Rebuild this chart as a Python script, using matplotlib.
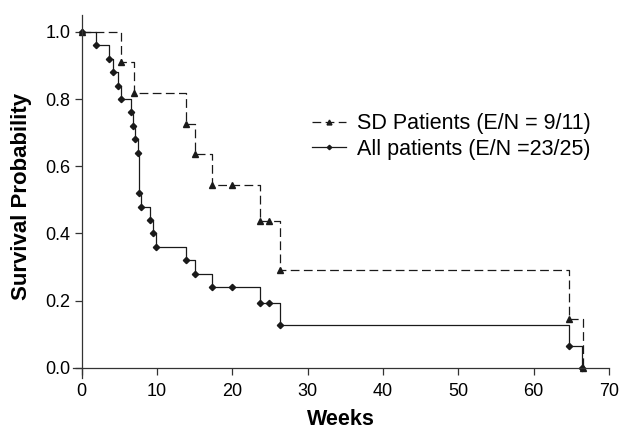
import matplotlib
matplotlib.use('Agg')
import matplotlib.pyplot as plt

plt.rcParams['font.family'] = ['Liberation Sans', 'DejaVu Sans']

# Kaplan-Meier curves (weeks, survival probability)
sd_weeks = [0, 5.2, 6.9, 13.9, 15.0, 17.3, 19.9, 23.6, 24.9, 26.3, 64.7, 66.5]
sd_surv = [1.0, 0.909, 0.818, 0.727, 0.636, 0.545, 0.545, 0.436, 0.436, 0.291, 0.145, 0.0]

all_weeks = [0, 1.9, 3.6, 4.2, 4.8, 5.2, 6.5, 6.8, 7.1, 7.4, 7.55, 7.9, 9.0, 9.5, 9.9,
             13.9, 15.0, 17.3, 19.9, 23.6, 24.9, 26.3, 64.7, 66.4]
all_surv = [1.0, 0.96, 0.92, 0.88, 0.84, 0.80, 0.76, 0.72, 0.68, 0.64, 0.52, 0.48, 0.44, 0.40, 0.36,
            0.32, 0.28, 0.24, 0.24, 0.192, 0.192, 0.128, 0.064, 0.0]

sd_label = 'SD Patients (E/N = 9/11)'
all_label = 'All patients (E/N =23/25)'

x_ticks = [0, 10, 20, 30, 40, 50, 60, 70]
y_ticks = [0.0, 0.2, 0.4, 0.6, 0.8, 1.0]

fig = plt.figure(figsize=(6.2, 4.28), dpi=100)
ax = fig.add_axes([0.1173, 0.1168, 0.865, 0.8482])

line_col = '#1a1a1a'
ax.step(all_weeks, all_surv, where='post', color=line_col, lw=0.9,
        marker='D', markersize=3.2, label=all_label)
ax.step(sd_weeks, sd_surv, where='post', color=line_col, lw=0.9, linestyle=(0, (7, 3.5)),
        marker='^', markersize=5, label=sd_label)

ax.set_xlim(-1.2, 70)
ax.set_ylim(-0.03, 1.05)
ax.set_xticks(x_ticks)
ax.set_yticks(y_ticks)
ax.set_yticklabels(['%.1f' % v for v in y_ticks])

for side in ['top', 'right']:
    ax.spines[side].set_visible(False)
ax.spines['left'].set_position(('data', 0))
ax.spines['bottom'].set_position(('data', 0))
for side in ['left', 'bottom']:
    ax.spines[side].set_color('#333333')
    ax.spines[side].set_linewidth(0.9)
ax.tick_params(direction='out', length=5, width=0.9, color='#333333', labelsize=13, pad=3)
ax.tick_params(axis='x', pad=6)

ax.set_xlabel('Weeks', fontsize=15.5, fontweight='bold')
ax.set_ylabel('Survival Probability', fontsize=16, fontweight='bold')
ax.xaxis.set_label_coords(0.5, -0.084)
ax.yaxis.set_label_coords(-0.076, 0.5)

handles, labels = ax.get_legend_handles_labels()
ax.legend(handles[::-1], labels[::-1], loc='upper left', bbox_to_anchor=(0.503, 0.735),
          bbox_transform=fig.transFigure, frameon=False, fontsize=15.5, markerscale=0.7,
          handlelength=1.6, handletextpad=0.5, labelspacing=0.2, borderpad=0, borderaxespad=0)

plt.savefig('out.png', dpi=100)
